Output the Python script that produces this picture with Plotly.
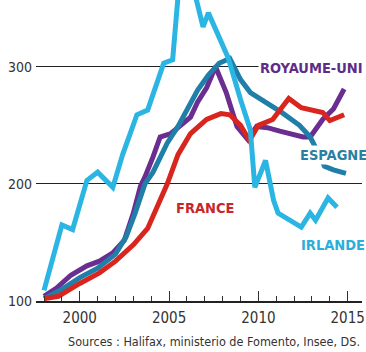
import plotly.graph_objects as go

# Royaume-Uni (purple)
uk_x = [1998.0, 1998.7, 1999.5, 2000.4, 2001.1, 2001.85, 2002.5, 2003.0, 2003.4, 2003.65, 2004.1, 2004.5,
        2005.1, 2005.6, 2006.2, 2006.6, 2007.1, 2007.6, 2008.2, 2008.8, 2009.4, 2009.9, 2010.5, 2011.2,
        2011.8, 2012.5, 2012.9, 2013.6, 2014.2, 2014.8]
uk_y = [104, 111, 122, 130, 134, 141, 152, 175, 198, 206, 223, 240,
        243, 249, 257, 270, 282, 300, 278, 249, 238, 249, 248, 245,
        243, 240, 240, 255, 264, 281]

# Espagne (teal)
es_x = [1998.0, 1999.0, 2000.0, 2001.0, 2002.0, 2002.6, 2003.1, 2003.65, 2004.1, 2004.9, 2005.5, 2006.0,
        2006.6, 2007.2, 2007.8, 2008.4, 2009.0, 2009.55, 2010.3, 2011.3, 2012.3, 2012.9, 2013.3, 2013.7,
        2014.2, 2014.9]
es_y = [102, 110, 120, 128, 140, 155, 175, 200, 210, 235, 249, 263,
        280, 293, 303, 307, 289, 278, 271, 261, 250, 240, 228, 215,
        212, 209]

# France (red)
fr_x = [1998.0, 1998.8, 2000.0, 2001.1, 2002.0, 2003.0, 2003.8, 2004.3, 2004.9, 2005.5, 2006.2, 2007.1,
        2007.9, 2008.4, 2009.0, 2009.5, 2010.0, 2010.8, 2011.7, 2012.4, 2013.0, 2013.6, 2014.0, 2014.8]
fr_y = [102, 104, 115, 124, 134, 148, 162, 180, 200, 225, 243, 255,
        260, 259, 250, 237, 250, 255, 273, 265, 263, 261, 254, 259]

# Irlande (light blue)
ie_x = [1998.0, 1999.0, 1999.6, 2000.4, 2001.0, 2001.85, 2002.4, 2003.2, 2003.8, 2004.2, 2004.7, 2005.2,
        2005.5, 2006.0, 2006.9, 2007.2, 2007.75, 2008.3, 2009.0, 2009.55, 2009.8, 2010.4, 2010.85, 2011.1,
        2012.4, 2012.9, 2013.2, 2013.9, 2014.4]
ie_y = [109, 165, 161, 203, 210, 197, 225, 259, 263, 280, 303, 306,
        360, 390, 334, 346, 327, 308, 272, 246, 197, 220, 186, 175,
        163, 175, 169, 188, 180]

x_ticks = [2000, 2005, 2010, 2015]
y_ticks = [100, 200, 300]

C_UK = "#6a2d90"
C_ES = "#1f7fa8"
C_FR = "#d8261e"
C_IE = "#2bb5e2"

fig = go.Figure()
for xs, ys, col in [(uk_x, uk_y, C_UK), (es_x, es_y, C_ES), (fr_x, fr_y, C_FR), (ie_x, ie_y, C_IE)]:
    fig.add_trace(go.Scatter(x=xs, y=ys, mode="lines", line=dict(color=col, width=5),
                             hoverinfo="skip", showlegend=False))

lab_font = "DejaVu Sans Condensed, Liberation Sans Narrow, sans-serif"
labels = [
    ("ROYAUME-UNI", 2009.95, 299, "#5e2d87"),
    ("ESPAGNE", 2012.2, 225, "#2a7fa3"),
    ("FRANCE", 2005.3, 179.5, "#c8262a"),
    ("IRLANDE", 2012.3, 148, "#2aaedb"),
]
for txt, lx, ly, col in labels:
    fig.add_annotation(x=lx, y=ly, xref="x", yref="y", text="<b>%s</b>" % txt, showarrow=False,
                       xanchor="left", yanchor="middle", bgcolor="white", borderpad=1,
                       font=dict(family=lab_font, size=14.5, color=col))

fig.add_annotation(x=1.0, y=-0.136, xref="paper", yref="paper",
                   text="Sources : Halifax, ministerio de Fomento, Insee, DS.",
                   showarrow=False, xanchor="right", yanchor="middle",
                   font=dict(family=lab_font, size=12.5, color="#333"))

fig.update_layout(
    width=366, height=352,
    margin=dict(l=36, r=4, t=0, b=51),
    paper_bgcolor="white", plot_bgcolor="white",
    xaxis=dict(range=[1997.55, 2015.8], tickvals=x_ticks, ticktext=[str(v) for v in x_ticks],
               ticks="inside", ticklen=10, tickwidth=1.3, tickcolor="#333",
               minor=dict(dtick=1, tick0=2000, ticks="inside", ticklen=5, tickwidth=1.2, tickcolor="#333"),
               showline=True, linecolor="#222", linewidth=1.5, showgrid=False, zeroline=False,
               tickfont=dict(family=lab_font, size=15, color="#333"), ticklabelstandoff=2),
    yaxis=dict(range=[100, 357], tickvals=y_ticks, ticktext=[str(v) for v in y_ticks],
               showgrid=True, gridcolor="#222", gridwidth=1.3, zeroline=False, showline=False,
               ticks="", tickfont=dict(family=lab_font, size=14, color="#333"), ticklabelstandoff=3),
)

fig.write_html("out.html")
